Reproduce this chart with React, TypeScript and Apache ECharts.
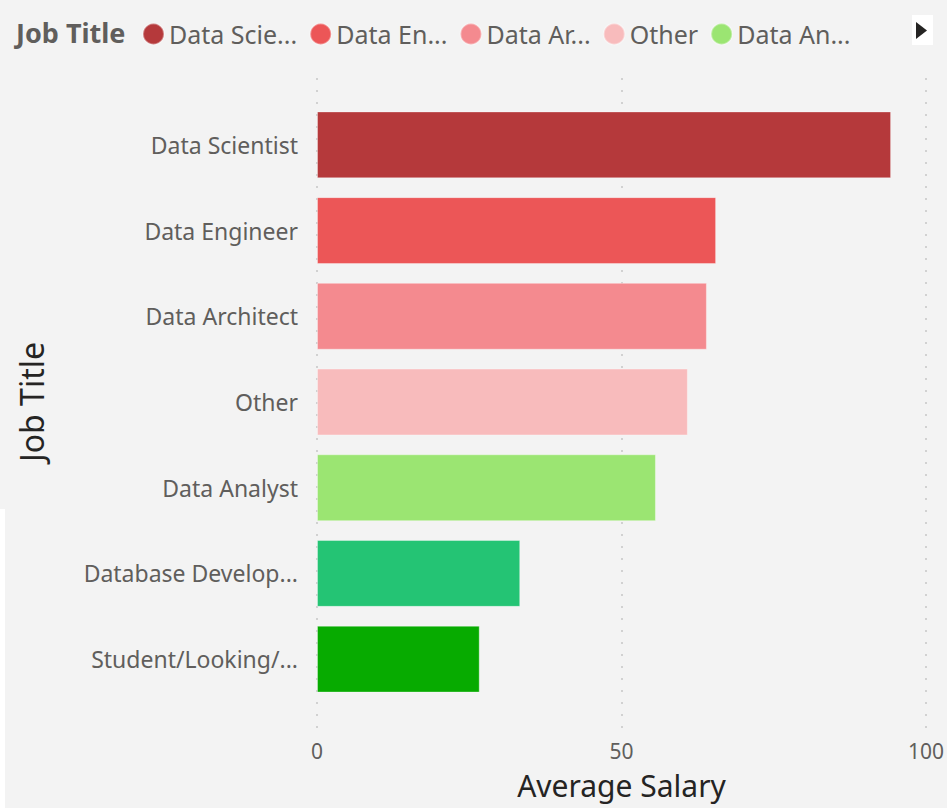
import React, { useEffect, useRef } from "react";
import * as echarts from "echarts";

const categories = [
  "Data Scientist",
  "Data Engineer",
  "Data Architect",
  "Other",
  "Data Analyst",
  "Database Developer",
  "Student/Looking/Trainee",
];
const axisLabels = [
  "Data Scientist",
  "Data Engineer",
  "Data Architect",
  "Other",
  "Data Analyst",
  "Database Develop...",
  "Student/Looking/...",
];
const legendLabels = ["Data Scie...", "Data En...", "Data Ar...", "Other", "Data An..."];
const avgSalary = [93.5, 65.0, 63.5, 60.4, 55.2, 33.1, 26.5];
const barColors = ["#b5393b", "#ec5657", "#f48a8f", "#f8bbbc", "#9be572", "#24c474", "#07ab00"];
const xMin = 0;
const xMax = 100;
const xInterval = 50;

const FONT = "'Noto Sans', sans-serif";

export default function App() {
  const ref = useRef<HTMLDivElement>(null);
  useEffect(() => {
    if (!ref.current) return;
    const chart = echarts.init(ref.current, undefined, { renderer: "svg" });
    const series: any[] = categories.map((name, i) => ({
      type: "bar",
      name,
      stack: "total",
      xAxisIndex: 0,
      yAxisIndex: 0,
      barCategoryGap: "22%",
      itemStyle: { color: barColors[i], borderColor: "rgba(255,255,255,0.35)", borderWidth: 1 },
      data: categories.map((_, j) => (j === i ? avgSalary[i] : null)),
    }));
    series.push({ type: "scatter", name: "_grid", xAxisIndex: 1, yAxisIndex: 1, data: [] });
    chart.setOption({
      animation: false,
      backgroundColor: "#f3f3f3",
      textStyle: { fontFamily: FONT },
      grid: [
        { left: 317, right: 16, top: 102, height: 600 },
        { left: 317, right: 16, top: 78, bottom: 78 },
      ],
      legend: {
        data: categories.slice(0, 5),
        left: 142,
        top: 21.5,
        padding: 0,
        icon: "circle",
        itemWidth: 21,
        itemHeight: 21,
        itemGap: 12,
        selectedMode: false,
        formatter: (name: string) => legendLabels[categories.indexOf(name)],
        textStyle: { fontFamily: FONT, fontSize: 25, color: "#605e5c" },
      },
      xAxis: [
        {
          type: "value",
          gridIndex: 0,
          min: xMin,
          max: xMax,
          interval: xInterval,
          show: false,
          splitLine: { show: false },
        },
        {
          type: "value",
          gridIndex: 1,
          min: xMin,
          max: xMax,
          interval: xInterval,
          axisLine: { show: false },
          axisTick: { show: false },
          splitLine: { show: true, lineStyle: { color: "#c6c6c6", width: 1.5, type: [2, 10] } },
          axisLabel: { fontFamily: FONT, fontSize: 21, color: "#605e5c", margin: 10 },
          name: "Average Salary",
          nameLocation: "middle",
          nameGap: 40,
          nameTextStyle: { fontFamily: FONT, fontSize: 30, color: "#252423" },
        },
      ],
      yAxis: [
        {
          type: "category",
          gridIndex: 0,
          data: categories,
          inverse: true,
          axisLine: { show: false },
          axisTick: { show: false },
          splitLine: { show: false },
          axisLabel: {
            fontFamily: FONT,
            fontSize: 23,
            color: "#605e5c",
            margin: 19,
            formatter: (_v: string, i: number) => axisLabels[i],
          },
          name: "Job Title",
          nameLocation: "middle",
          nameRotate: 90,
          nameGap: 270,
          nameTextStyle: { fontFamily: FONT, fontSize: 32, color: "#252423" },
        },
        { type: "value", gridIndex: 1, show: false, min: 0, max: 1 },
      ],
      graphic: [
        {
          type: "text",
          x: 16,
          y: 32,
          style: {
            text: "Job Title",
            fontFamily: FONT,
            fontSize: 27,
            fontWeight: "bold",
            fill: "#605e5c",
            textVerticalAlign: "middle",
          },
        },
        { type: "rect", shape: { x: 912, y: 15, width: 21, height: 30 }, style: { fill: "#ffffff" } },
        {
          type: "polygon",
          shape: { points: [[916, 22], [927, 30.5], [916, 39]] },
          style: { fill: "#252423" },
        },
        { type: "rect", shape: { x: 0, y: 509, width: 5, height: 299 }, style: { fill: "#ffffff" } },
      ],
      series,
    });
    return () => chart.dispose();
  }, []);
  return <div ref={ref} style={{ position: "fixed", left: 0, top: 0, width: 947, height: 808 }} />;
}
